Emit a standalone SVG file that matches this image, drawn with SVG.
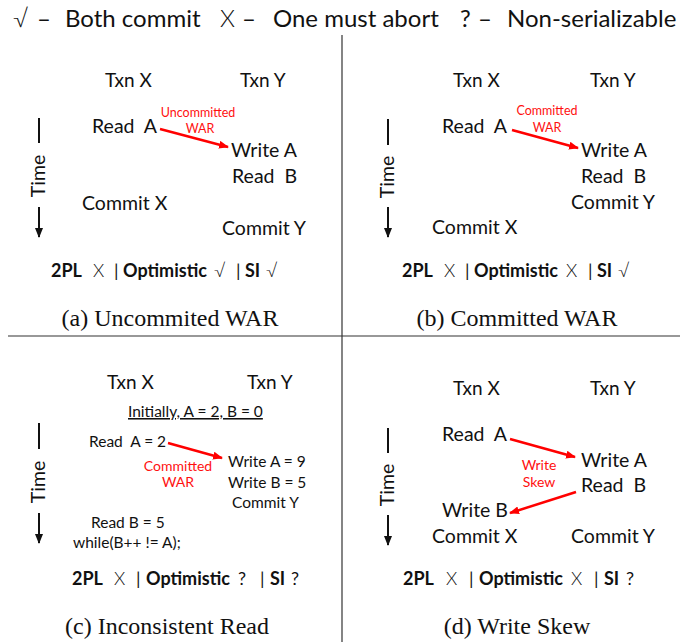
<svg xmlns="http://www.w3.org/2000/svg" width="697" height="642" viewBox="0 0 697 642">
  <style>
    text { font-family: Lato, "Open Sans", "Liberation Sans", sans-serif; fill: #111; white-space: pre; }
    .hd { font-size: 24px; }
    .sym { font-family: Lato, "DejaVu Sans", sans-serif; font-weight: 300; }
    .op { font-size: 19.5px; }
    .sm { font-size: 15.5px; }
    .txn { font-size: 19px; }
    .lbl { font-size: 12.5px; fill: #ff1010; text-anchor: middle; }
    .lbl2 { font-size: 14px; fill: #ff1010; text-anchor: middle; }
    .res { font-size: 18px; }
    .res .b { font-weight: bold; }
    .cap { font-family: "Liberation Serif", "Times New Roman", serif; font-size: 24px; text-anchor: middle; }
    .time { font-size: 19.5px; text-anchor: middle; }
    .dep { stroke: #ff0000; stroke-width: 2.5; fill: none; marker-end: url(#redHead); }
    .axis { stroke: #111; stroke-width: 2; fill: none; }
    .rule { stroke: #333; stroke-width: 1.2; }
  </style>
  <defs>
    <marker id="redHead" viewBox="0 0 10 8" refX="9" refY="4" markerWidth="10" markerHeight="8" markerUnits="userSpaceOnUse" orient="auto">
      <path d="M0,0 L10,4 L0,8 Z" fill="#ff0000"/>
    </marker>
    <marker id="timeHead" viewBox="0 0 8 10" refX="4" refY="9" markerWidth="8" markerHeight="10" markerUnits="userSpaceOnUse" orient="0">
      <path d="M0,0 L8,0 L4,10 Z" fill="#111"/>
    </marker>
  </defs>

  <!-- legend -->
  <g id="legend" class="hd">
    <text x="13" y="27" class="sym">√</text>
    <text x="37" y="27">–</text>
    <text x="65" y="27">Both commit</text>
    <text x="220" y="27" class="sym">X</text>
    <text x="242" y="27">–</text>
    <text x="273" y="27">One must abort</text>
    <text x="460" y="27">?</text>
    <text x="478" y="27">–</text>
    <text x="507" y="27">Non-serializable</text>
  </g>

  <!-- panel separators -->
  <g id="rules">
    <line class="rule" x1="342" y1="35" x2="342" y2="642"/>
    <line class="rule" x1="8" y1="336" x2="680" y2="336"/>
  </g>

  <!-- (a) Uncommitted WAR -->
  <g id="panel-a">
    <text class="txn" x="105" y="87">Txn X</text>
    <text class="txn" x="240" y="87">Txn Y</text>
    <g id="a-ops" class="op">
      <text x="92" y="133">Read  A</text>
      <text x="231" y="157">Write A</text>
      <text x="232" y="183">Read  B</text>
      <text x="82" y="210">Commit X</text>
      <text x="222" y="235">Commit Y</text>
    </g>
    <text class="lbl" x="198" y="117">Uncommitted</text>
    <text class="lbl" x="200" y="133">WAR</text>
    <line class="axis" x1="39" y1="118" x2="39" y2="143"/>
    <text class="time" transform="translate(45,176) rotate(-90)">Time</text>
    <line class="axis" x1="39" y1="207" x2="39" y2="237" marker-end="url(#timeHead)"/>
    <text class="res" y="277"><tspan class="b" x="51">2PL</tspan><tspan class="sym" x="93">X</tspan><tspan x="114">|</tspan><tspan class="b" x="123">Optimistic</tspan><tspan class="sym" x="214">√</tspan><tspan x="236">|</tspan><tspan class="b" x="245">SI</tspan><tspan class="sym" x="266">√</tspan></text>
    <text class="cap" x="170" y="326">(a) Uncommited WAR</text>
  </g>

  <!-- (b) Committed WAR -->
  <g id="panel-b">
    <text class="txn" x="453" y="87">Txn X</text>
    <text class="txn" x="590" y="87">Txn Y</text>
    <g id="b-ops" class="op">
      <text x="442" y="133">Read  A</text>
      <text x="581" y="157">Write A</text>
      <text x="581" y="183">Read  B</text>
      <text x="571" y="209">Commit Y</text>
      <text x="432" y="234">Commit X</text>
    </g>
    <text class="lbl" x="547" y="115">Committed</text>
    <text class="lbl" x="547" y="132">WAR</text>
    <line class="axis" x1="388" y1="119" x2="388" y2="145"/>
    <text class="time" transform="translate(394,177) rotate(-90)">Time</text>
    <line class="axis" x1="388" y1="207" x2="388" y2="237" marker-end="url(#timeHead)"/>
    <text class="res" y="277"><tspan class="b" x="402">2PL</tspan><tspan class="sym" x="444">X</tspan><tspan x="465">|</tspan><tspan class="b" x="474">Optimistic</tspan><tspan class="sym" x="566">X</tspan><tspan x="588">|</tspan><tspan class="b" x="597">SI</tspan><tspan class="sym" x="618">√</tspan></text>
    <text class="cap" x="517" y="326">(b) Committed WAR</text>
  </g>

  <!-- (c) Inconsistent Read -->
  <g id="panel-c">
    <text class="txn" x="107" y="389">Txn X</text>
    <text class="txn" x="247" y="389">Txn Y</text>
    <text class="sm" x="128" y="417" text-decoration="underline">Initially, A = 2, B = 0</text>
    <g id="c-ops" class="sm">
      <text x="89" y="447">Read  A = 2</text>
      <text x="228" y="467">Write A = 9</text>
      <text x="228" y="488">Write B = 5</text>
      <text x="232" y="508">Commit Y</text>
      <text x="91" y="528">Read B = 5</text>
      <text x="73" y="548">while(B++ != A);</text>
    </g>
    <text class="lbl2" x="178" y="471">Committed</text>
    <text class="lbl2" x="178" y="487">WAR</text>
    <line class="axis" x1="39" y1="423" x2="39" y2="449"/>
    <text class="time" transform="translate(45,482) rotate(-90)">Time</text>
    <line class="axis" x1="39" y1="513" x2="39" y2="543" marker-end="url(#timeHead)"/>
    <text class="res" y="585"><tspan class="b" x="72">2PL</tspan><tspan class="sym" x="114">X</tspan><tspan x="136">|</tspan><tspan class="b" x="146">Optimistic</tspan><tspan x="238">?</tspan><tspan x="260">|</tspan><tspan class="b" x="270">SI</tspan><tspan x="291">?</tspan></text>
    <text class="cap" x="167" y="634">(c) Inconsistent Read</text>
  </g>

  <!-- (d) Write Skew -->
  <g id="panel-d">
    <text class="txn" x="453" y="395">Txn X</text>
    <text class="txn" x="590" y="395">Txn Y</text>
    <g id="d-ops" class="op">
      <text x="442" y="441">Read  A</text>
      <text x="581" y="467">Write A</text>
      <text x="581" y="492">Read  B</text>
      <text x="442" y="517">Write B</text>
      <text x="432" y="543">Commit X</text>
      <text x="571" y="543">Commit Y</text>
    </g>
    <text class="lbl2" x="539" y="470">Write</text>
    <text class="lbl2" x="539" y="487">Skew</text>
    <line class="axis" x1="388" y1="428" x2="388" y2="453"/>
    <text class="time" transform="translate(394,485) rotate(-90)">Time</text>
    <line class="axis" x1="388" y1="515" x2="388" y2="545" marker-end="url(#timeHead)"/>
    <text class="res" y="585"><tspan class="b" x="403">2PL</tspan><tspan class="sym" x="446">X</tspan><tspan x="469">|</tspan><tspan class="b" x="479">Optimistic</tspan><tspan class="sym" x="571">X</tspan><tspan x="594">|</tspan><tspan class="b" x="604">SI</tspan><tspan x="626">?</tspan></text>
    <text class="cap" x="517" y="634">(d) Write Skew</text>
  </g>

  <!-- dependency arrows -->
  <g id="connectors">
    <line class="dep" x1="160" y1="129" x2="228" y2="147"/>
    <line class="dep" x1="512" y1="130" x2="578" y2="148"/>
    <line class="dep" x1="168" y1="443" x2="222" y2="458"/>
    <line class="dep" x1="510" y1="439" x2="575" y2="457"/>
    <line class="dep" x1="576" y1="492" x2="510" y2="513"/>
  </g>
</svg>
